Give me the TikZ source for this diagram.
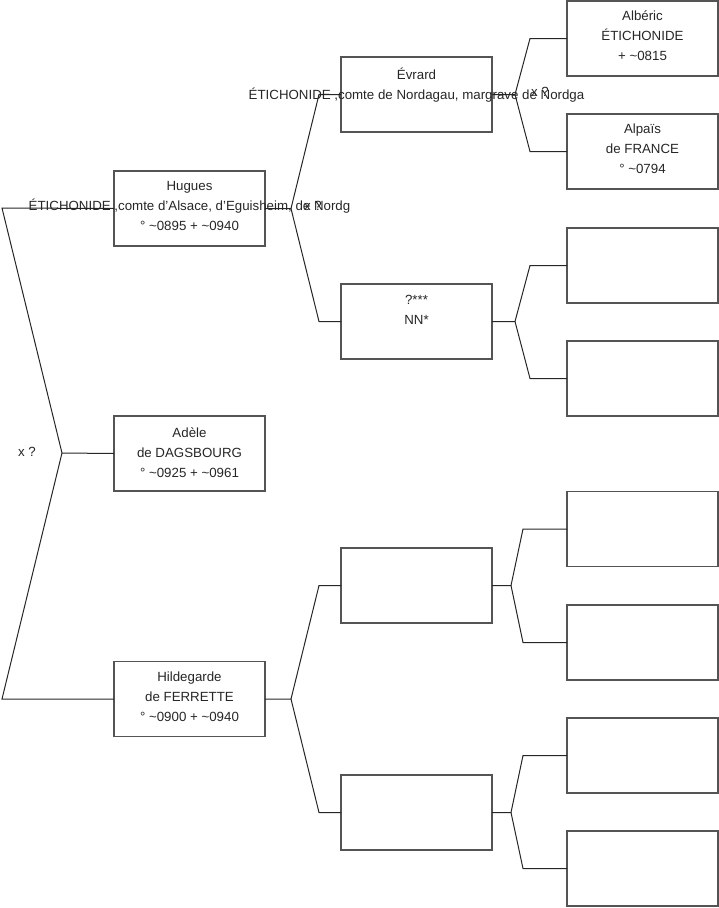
\documentclass[tikz,border=0pt]{standalone}
\usepackage{fontspec}
\setmainfont{Liberation Sans}
\begin{document}
\begin{tikzpicture}[x=1pt,y=-1pt,
  box/.style={draw=boxgray, line width=1.2pt, minimum width=151pt, minimum height=75pt, inner sep=0pt, outer sep=0pt},
  txt/.style={align=center, inner sep=0pt, font=\fontsize{13.3}{20}\selectfont, text=black!85},
  lbl/.style={inner sep=0pt, font=\fontsize{13.3}{16}\selectfont, text=black!85},
  conn/.style={draw=black!85, line width=1pt}]
\definecolor{boxgray}{gray}{0.33}
\useasboundingbox (0,0) rectangle (719,908);
% generation 1
\node[box] (hugues) at (189.5,208.5) {};
\node[box] (adele) at (189.5,453.5) {};
\node[box] (hild) at (189.5,699) {};
% generation 2
\node[box] (evrard) at (416.5,94.5) {};
\node[box] (nn) at (416.5,321.5) {};
\node[box] (g3c) at (416.5,585.5) {};
\node[box] (g3d) at (416.5,812.5) {};
% generation 3
\node[box] (alberic) at (642.5,38.5) {};
\node[box] (alpais) at (642.5,151.5) {};
\node[box] (g4c) at (642.5,265.5) {};
\node[box] (g4d) at (642.5,378.5) {};
\node[box] (g4e) at (642.5,529) {};
\node[box] (g4f) at (642.5,642.5) {};
\node[box] (g4g) at (642.5,755.5) {};
\node[box] (g4h) at (642.5,868.5) {};
% texts
\node[txt] (hugues-t) at (189.5,206) {Hugues\\ÉTICHONIDE ,comte d'Alsace, d'Eguisheim, de Nordg\\° \textasciitilde0895 + \textasciitilde0940};
\node[txt] (adele-t) at (189.5,453) {Adèle\\de DAGSBOURG\\° \textasciitilde0925 + \textasciitilde0961};
\node[txt] (hild-t) at (189.5,697) {Hildegarde\\de FERRETTE\\° \textasciitilde0900 + \textasciitilde0940};
\node[txt] (evrard-t) at (416.5,93.5) {Évrard\\ÉTICHONIDE ,comte de Nordagau, margrave de Nordga\\\mbox{}};
\node[txt] (nn-t) at (416.5,320) {?***\\NN*\\\mbox{}};
\node[txt] (alberic-t) at (642.5,36) {Albéric\\ÉTICHONIDE\\+ \textasciitilde0815};
\node[txt] (alpais-t) at (642.5,149) {Alpaïs\\de FRANCE\\° \textasciitilde0794};
% root fork
\coordinate (r0) at (2,208);
\coordinate (rv) at (62,453);
\coordinate (r2) at (2,699);
\draw[conn] (hugues.west) -- (r0) -- (rv) -- (r2) -- (hild.west);
\draw[conn] (rv) -- (adele.west);
\node[lbl] (x0) at (27,452) {x ?};
% Hugues fork
\coordinate (hv) at (291,208.5);
\coordinate (h1) at (319,94.5);
\coordinate (h2) at (319,321.5);
\draw[conn] (hugues.east) -- (hv) -- (h1) -- (evrard.west);
\draw[conn] (hv) -- (h2) -- (nn.west);
\node[lbl] (x1) at (313,206) {x ?};
% Hildegarde fork
\coordinate (dv) at (291,699);
\coordinate (d1) at (319,585.5);
\coordinate (d2) at (319,812.5);
\draw[conn] (hild.east) -- (dv) -- (d1) -- (g3c.west);
\draw[conn] (dv) -- (d2) -- (g3d.west);
% Evrard fork
\coordinate (ev) at (515,94.5);
\coordinate (e1) at (530,38.5);
\coordinate (e2) at (530,151.5);
\draw[conn] (evrard.east) -- (ev) -- (e1) -- (alberic.west);
\draw[conn] (ev) -- (e2) -- (alpais.west);
\node[lbl] (x2) at (540,92) {x ?};
% NN fork
\coordinate (nv) at (515,321.5);
\coordinate (n1) at (530,265.5);
\coordinate (n2) at (530,378.5);
\draw[conn] (nn.east) -- (nv) -- (n1) -- (g4c.west);
\draw[conn] (nv) -- (n2) -- (g4d.west);
% g3c fork
\coordinate (cv) at (511,585.5);
\coordinate (c1) at (523,529);
\coordinate (c2) at (523,642.5);
\draw[conn] (g3c.east) -- (cv) -- (c1) -- (g4e.west);
\draw[conn] (cv) -- (c2) -- (g4f.west);
% g3d fork
\coordinate (fv) at (511,812.5);
\coordinate (f1) at (523,755.5);
\coordinate (f2) at (523,868.5);
\draw[conn] (g3d.east) -- (fv) -- (f1) -- (g4g.west);
\draw[conn] (fv) -- (f2) -- (g4h.west);
\end{tikzpicture}
\end{document}
